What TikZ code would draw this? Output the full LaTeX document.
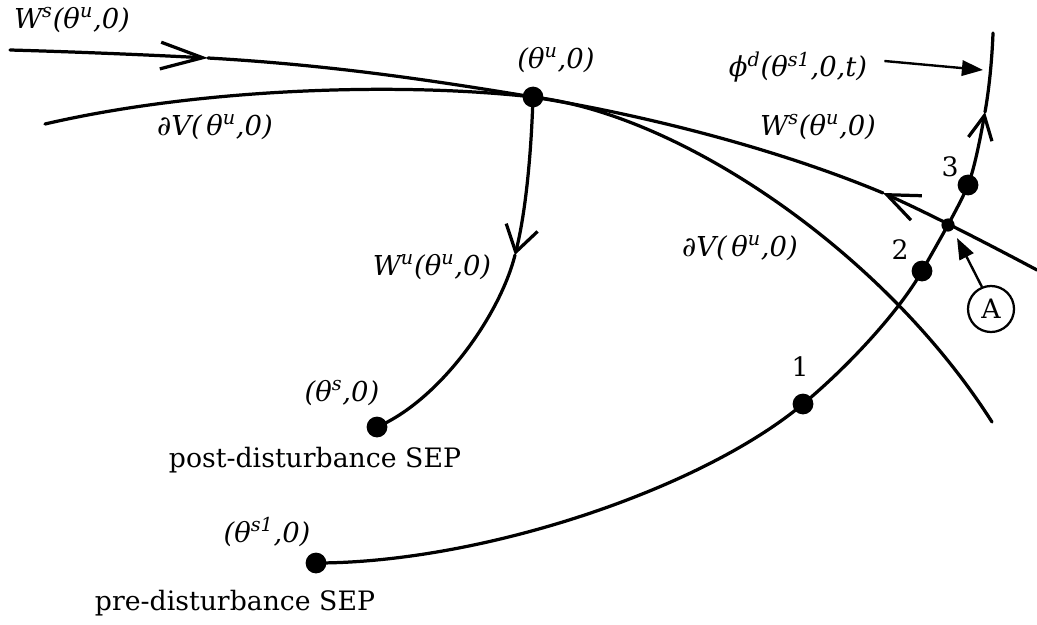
\documentclass[tikz,border=0pt]{standalone}
\usepackage{fontspec}
\setmainfont{DejaVu Serif}
\usetikzlibrary{arrows.meta}
\begin{document}
\begin{tikzpicture}[x=0.025cm,y=-0.025cm,
  curve/.style={line width=2.3pt, line join=round, line cap=round},
  dot/.style={circle, fill=black, inner sep=0pt, minimum size=0.52cm},
  smalldot/.style={circle, fill=black, inner sep=0pt, minimum size=0.33cm},
  lab/.style={font=\fontsize{19.5}{22}\selectfont\itshape, inner sep=0pt},
  plain/.style={font=\fontsize{19}{22}\selectfont, inner sep=0pt},
  pointer/.style={line width=1.7pt, -{Triangle[length=15pt,width=11pt]}},
  ring/.style={circle, draw, line width=1.6pt, minimum size=1.15cm, inner sep=0pt, font=\fontsize{19}{22}\selectfont}
]
\useasboundingbox (0,0) rectangle (1037,624);

% key points
\coordinate (tu) at (533,97);
\coordinate (ts) at (377,427);
\coordinate (ts1) at (316,563);
\coordinate (p1) at (803,404);
\coordinate (p2) at (922,271);
\coordinate (pA) at (948,225);
\coordinate (p3) at (968,185);
\coordinate (wsS) at (10,50);
\coordinate (wsL) at (208,58);
\coordinate (wsR) at (883,193);
\coordinate (wsE) at (1037,270);
\coordinate (dvS) at (45,124);
\coordinate (dvE) at (992,422);
\coordinate (wuA) at (515,255);
\coordinate (trA) at (985,112);
\coordinate (trE) at (993,33);

% stable manifold W^s
\draw[curve,-{Straight Barb[length=30pt,width=19pt]}] (wsS) .. controls (80,52) and (150,55) .. (wsL);
\draw[curve] (wsL) .. controls (330,65) and (430,80) .. (tu)
                   .. controls (650,116) and (780,150) .. (wsR);
\draw[curve,-{Straight Barb[length=23pt,width=19pt]}] (wsE) .. controls (990,245) and (930,214) .. (wsR);

% stability boundary dV
\draw[curve] (dvS) .. controls (200,88) and (400,82) .. (tu)
                   .. controls (680,114) and (884,252) .. (dvE);

% unstable manifold W^u
\draw[curve,-{Straight Barb[length=18pt,width=23pt]}] (tu) .. controls (531,160) and (525,215) .. (wuA);
\draw[curve] (wuA) .. controls (500,315) and (440,400) .. (ts);

% fault-on trajectory
\draw[curve] (ts1) .. controls (480,563) and (700,490) .. (p1)
                   .. controls (850,365) and (900,310) .. (p2)
                   .. controls (935,248) and (960,205) .. (p3);
\draw[curve,-{Straight Barb[length=17pt,width=17pt]}] (p3) .. controls (974,170) and (980,140) .. (trA);
\draw[curve] (trA) .. controls (989,90) and (992,60) .. (trE);

% dots
\node[dot] (Ntu) at (tu) {};
\node[dot] (Nts) at (ts) {};
\node[dot] (Nts1) at (ts1) {};
\node[dot] (N1) at (p1) {};
\node[dot] (N2) at (p2) {};
\node[dot] (N3) at (p3) {};
\node[smalldot] (NA) at (pA) {};

% labels
\node[lab] (lWsL) at (72,20) {W\textsuperscript{s}(θ\textsuperscript{u},0)};
\node[lab] (ldVL) at (215,127) {∂V(\,θ\textsuperscript{u},0)};
\node[lab] (ltu) at (556,60) {(θ\textsuperscript{u},0)};
\node[lab] (lphi) at (798,67) {ϕ\textsuperscript{d}(θ\textsuperscript{s1},0,t)};
\node[lab] (lWsR) at (818,127) {W\textsuperscript{s}(θ\textsuperscript{u},0)};
\node[lab] (ldVR) at (740,248) {∂V(\,θ\textsuperscript{u},0)};
\node[lab] (lWu) at (432,267) {W\textsuperscript{u}(θ\textsuperscript{u},0)};
\node[lab] (lts) at (342,393) {(θ\textsuperscript{s},0)};
\node[plain] (lpost) at (315,460) {post-disturbance SEP};
\node[lab] (lts1) at (267,532) {(θ\textsuperscript{s1},0)};
\node[plain] (lpre) at (235,603) {pre-disturbance SEP};
\node[plain] (l1) at (800,367) {1};
\node[plain] (l2) at (900,250) {2};
\node[plain] (l3) at (950,167) {3};
\node[ring] (cA) at (991,309) {A};

% pointers
\coordinate (phiTip) at (983,70);
\draw[pointer] (lphi.east) ++(17,-6) coordinate (phiStart) -- (phiTip);
\draw[pointer] (cA.north west) ++(8,-5) coordinate (aStart) -- (957,238) coordinate (aTip);
\end{tikzpicture}
\end{document}
